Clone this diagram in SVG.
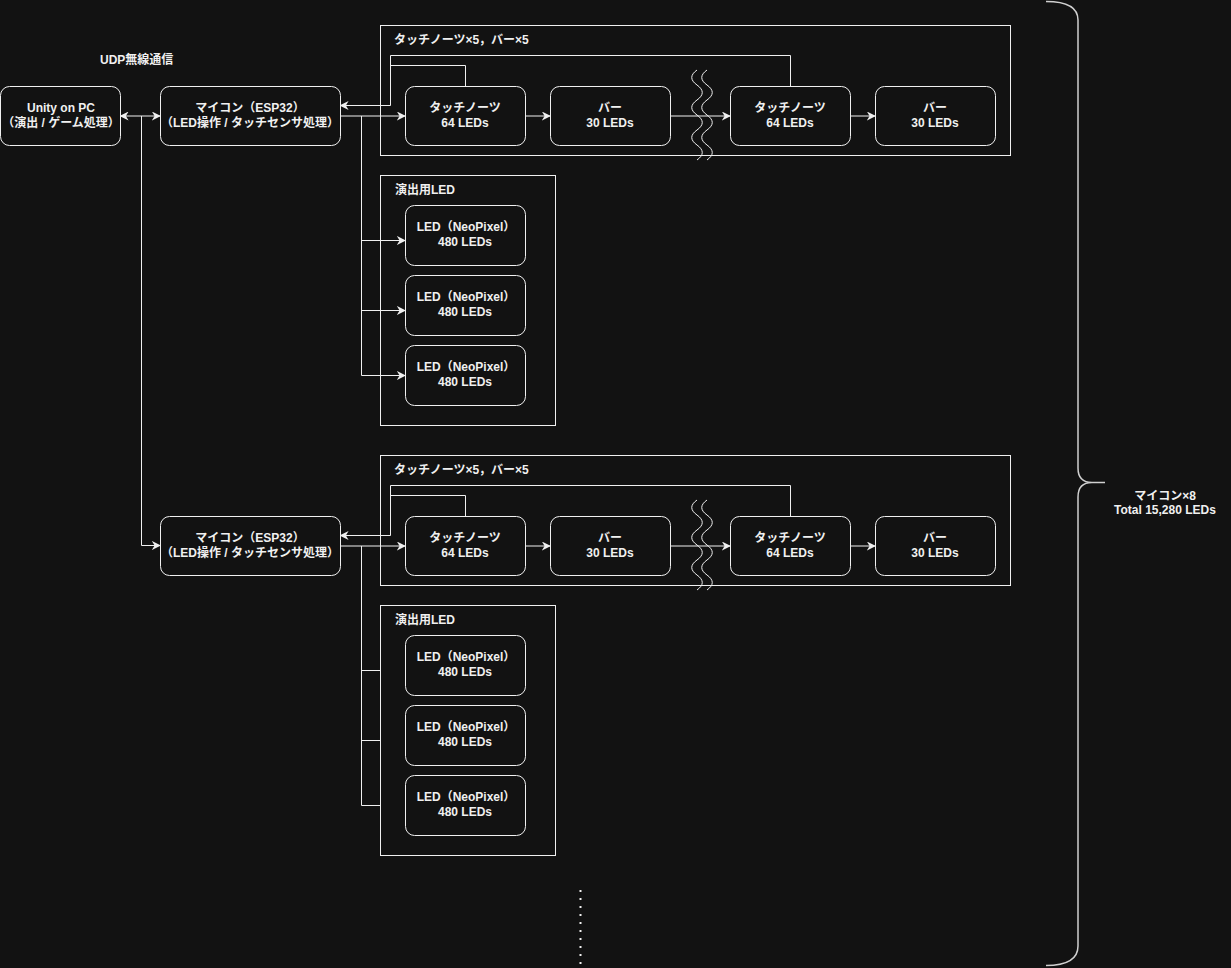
<svg xmlns="http://www.w3.org/2000/svg" width="1231" height="968" viewBox="0 0 1231 968">
<style>
.bg{fill:#121212}
.box{fill:#121212;stroke:#f0f0f0;stroke-width:1}
.grp{fill:none;stroke:#f0f0f0;stroke-width:1}
.ln{fill:none;stroke:#f0f0f0;stroke-width:1}
.wave{fill:none;stroke:#f0f0f0;stroke-width:1}
text{font-family:"Liberation Sans","Noto Sans CJK JP",sans-serif;font-size:12px;font-weight:bold;fill:#f0f0f0}
.c{text-anchor:middle}
</style>
<defs>
<marker id="ah" viewBox="0 0 10 10" refX="9" refY="5" markerWidth="9" markerHeight="9" markerUnits="userSpaceOnUse" orient="auto-start-reverse">
<path d="M0,0 L10,5 L0,10 L3,5 z" fill="#f0f0f0"/>
</marker>
<path id="wv" d="M0,0 c-7,5 -7,10 0,15 c7,5 7,10 0,15 c-7,5 -7,10 0,15 c7,5 7,10 0,15 c-7,5 -7,10 0,15 c7,5 7,10 0,15"/>
</defs>
<rect class="bg" x="0" y="0" width="1231" height="968"/>

<g id="label-udp"><text x="100" y="64">UDP無線通信</text></g>

<g id="group-notes-1"><rect class="grp" x="380.5" y="25.5" width="630" height="130"/><text x="394" y="44">タッチノーツ×5，バー×5</text></g>
<g id="group-led-1"><rect class="grp" x="380.5" y="175.5" width="175" height="250"/><text x="395" y="194">演出用LED</text></g>
<g id="group-notes-2"><rect class="grp" x="380.5" y="455.5" width="630" height="130"/><text x="394" y="474">タッチノーツ×5，バー×5</text></g>
<g id="group-led-2"><rect class="grp" x="380.5" y="605.5" width="175" height="250"/><text x="395" y="624">演出用LED</text></g>

<g id="connectors">
<!-- section 1 -->
<line class="ln" x1="120.5" y1="116" x2="160" y2="116" marker-start="url(#ah)" marker-end="url(#ah)"/>
<polyline class="ln" points="141.5,116 141.5,545.5 160,545.5" marker-end="url(#ah)"/>
<line class="ln" x1="340.5" y1="116" x2="405" y2="116" marker-end="url(#ah)"/>
<polyline class="ln" points="465.5,86 465.5,65.5 390.5,65.5 390.5,105.5 340.5,105.5" marker-end="url(#ah)"/>
<polyline class="ln" points="790.5,86 790.5,55.5 390.5,55.5 390.5,66"/>
<line class="ln" x1="525.5" y1="116" x2="550" y2="116" marker-end="url(#ah)"/>
<line class="ln" x1="670.5" y1="116" x2="730" y2="116" marker-end="url(#ah)"/>
<line class="ln" x1="850.5" y1="116" x2="875" y2="116" marker-end="url(#ah)"/>
<polyline class="ln" points="361.5,116 361.5,375.5 405,375.5" marker-end="url(#ah)"/>
<line class="ln" x1="361.5" y1="240.5" x2="405" y2="240.5" marker-end="url(#ah)"/>
<line class="ln" x1="361.5" y1="310.5" x2="405" y2="310.5" marker-end="url(#ah)"/>
<!-- section 2 -->
<line class="ln" x1="340.5" y1="546" x2="405" y2="546" marker-end="url(#ah)"/>
<polyline class="ln" points="465.5,516 465.5,495.5 390.5,495.5 390.5,535.5 340.5,535.5" marker-end="url(#ah)"/>
<polyline class="ln" points="790.5,516 790.5,485.5 390.5,485.5 390.5,496"/>
<line class="ln" x1="525.5" y1="546" x2="550" y2="546" marker-end="url(#ah)"/>
<line class="ln" x1="670.5" y1="546" x2="730" y2="546" marker-end="url(#ah)"/>
<line class="ln" x1="850.5" y1="546" x2="875" y2="546" marker-end="url(#ah)"/>
<polyline class="ln" points="361.5,546 361.5,805.5 380.5,805.5"/>
<line class="ln" x1="361.5" y1="670.5" x2="380.5" y2="670.5"/>
<line class="ln" x1="361.5" y1="740.5" x2="380.5" y2="740.5"/>
</g>

<g id="break-1"><use href="#wv" class="wave" x="697" y="70"/><use href="#wv" class="wave" x="707" y="70"/></g>
<g id="break-2"><use href="#wv" class="wave" x="697" y="500"/><use href="#wv" class="wave" x="707" y="500"/></g>

<g id="unity"><rect class="box" x="0.5" y="86.5" width="120" height="59" rx="9"/><text class="c" x="61" y="112">Unity on PC</text><text class="c" x="61" y="127">（演出 / ゲーム処理）</text></g>
<g id="esp32-1"><rect class="box" x="160.5" y="86.5" width="180" height="59" rx="9"/><text class="c" x="250" y="112">マイコン（ESP32）</text><text class="c" x="250" y="127">（LED操作 / タッチセンサ処理）</text></g>
<g id="tn1-1"><rect class="box" x="405.5" y="86.5" width="120" height="59" rx="9"/><text class="c" x="465" y="112">タッチノーツ</text><text class="c" x="465" y="127">64 LEDs</text></g>
<g id="bar1-1"><rect class="box" x="550.5" y="86.5" width="120" height="59" rx="9"/><text class="c" x="610" y="112">バー</text><text class="c" x="610" y="127">30 LEDs</text></g>
<g id="tn2-1"><rect class="box" x="730.5" y="86.5" width="120" height="59" rx="9"/><text class="c" x="790" y="112">タッチノーツ</text><text class="c" x="790" y="127">64 LEDs</text></g>
<g id="bar2-1"><rect class="box" x="875.5" y="86.5" width="120" height="59" rx="9"/><text class="c" x="935" y="112">バー</text><text class="c" x="935" y="127">30 LEDs</text></g>
<g id="led1-1"><rect class="box" x="405.5" y="205.5" width="120" height="60" rx="9"/><text class="c" x="466" y="231">LED（NeoPixel）</text><text class="c" x="465" y="246">480 LEDs</text></g>
<g id="led2-1"><rect class="box" x="405.5" y="275.5" width="120" height="60" rx="9"/><text class="c" x="466" y="301">LED（NeoPixel）</text><text class="c" x="465" y="316">480 LEDs</text></g>
<g id="led3-1"><rect class="box" x="405.5" y="345.5" width="120" height="60" rx="9"/><text class="c" x="466" y="371">LED（NeoPixel）</text><text class="c" x="465" y="386">480 LEDs</text></g>

<g id="esp32-2"><rect class="box" x="160.5" y="516.5" width="180" height="59" rx="9"/><text class="c" x="250" y="542">マイコン（ESP32）</text><text class="c" x="250" y="557">（LED操作 / タッチセンサ処理）</text></g>
<g id="tn1-2"><rect class="box" x="405.5" y="516.5" width="120" height="59" rx="9"/><text class="c" x="465" y="542">タッチノーツ</text><text class="c" x="465" y="557">64 LEDs</text></g>
<g id="bar1-2"><rect class="box" x="550.5" y="516.5" width="120" height="59" rx="9"/><text class="c" x="610" y="542">バー</text><text class="c" x="610" y="557">30 LEDs</text></g>
<g id="tn2-2"><rect class="box" x="730.5" y="516.5" width="120" height="59" rx="9"/><text class="c" x="790" y="542">タッチノーツ</text><text class="c" x="790" y="557">64 LEDs</text></g>
<g id="bar2-2"><rect class="box" x="875.5" y="516.5" width="120" height="59" rx="9"/><text class="c" x="935" y="542">バー</text><text class="c" x="935" y="557">30 LEDs</text></g>
<g id="led1-2"><rect class="box" x="405.5" y="635.5" width="120" height="60" rx="9"/><text class="c" x="466" y="661">LED（NeoPixel）</text><text class="c" x="465" y="676">480 LEDs</text></g>
<g id="led2-2"><rect class="box" x="405.5" y="705.5" width="120" height="60" rx="9"/><text class="c" x="466" y="731">LED（NeoPixel）</text><text class="c" x="465" y="746">480 LEDs</text></g>
<g id="led3-2"><rect class="box" x="405.5" y="775.5" width="120" height="60" rx="9"/><text class="c" x="466" y="801">LED（NeoPixel）</text><text class="c" x="465" y="816">480 LEDs</text></g>

<g id="brace">
<path d="M1046,1.5 Q1078,1.5 1078,20 L1078,468 Q1078,482.5 1092,482.5 L1105,482.5 M1092,482.5 Q1078,482.5 1078,497 L1078,946 Q1078,965.5 1046,965.5" fill="none" stroke="#d0d0d0" stroke-width="1.5"/>
<text class="c" x="1165" y="500">マイコン×8</text>
<text class="c" x="1165" y="514">Total 15,280 LEDs</text>
</g>

<g id="continuation"><line x1="580.5" y1="890" x2="580.5" y2="966" stroke="#f0f0f0" stroke-width="2" stroke-dasharray="2 6"/></g>
</svg>
